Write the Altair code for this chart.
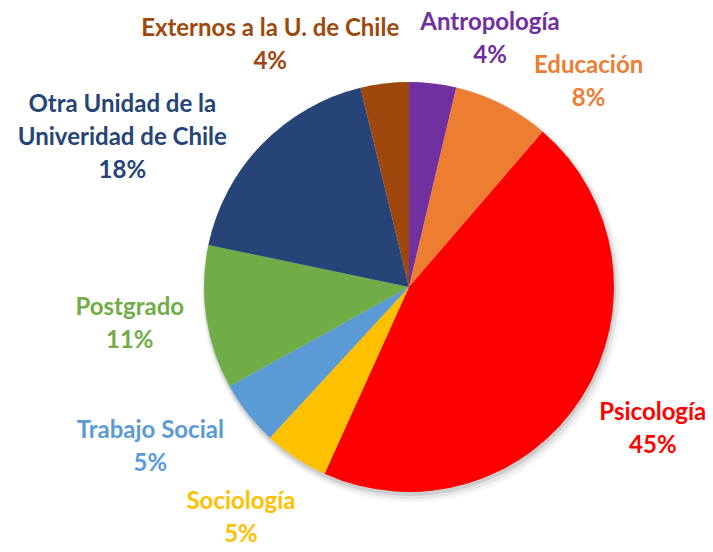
import altair as alt
import pandas as pd

# ---- data ----
categories = [
    "Antropología",
    "Educación",
    "Psicología",
    "Sociología",
    "Trabajo Social",
    "Postgrado",
    "Otra Unidad de la|Univeridad de Chile",
    "Externos a la U. de Chile",
]
values = [3.7, 7.6, 45.4, 5.1, 5.1, 11.3, 17.9, 3.8]
colors = ["#7030A0", "#ED7D31", "#FF0000", "#FFC000",
          "#5B9BD5", "#70AD47", "#264478", "#9E480E"]

df = pd.DataFrame({"categoria": categories, "valor": values,
                   "orden": list(range(len(categories)))})

# ---- layout ----
CX, CY, R = 401, 279, 205
LABEL_R = 250
LH = 33
FS = 24
# offsets of each label block centre from its mid-angle anchor
label_offsets = {
    "Antropología": (52, 1),
    "Educación": (66, 18),
    "Psicología": (33, 8),
    "Sociología": (-30, 23),
    "Trabajo Social": (-62, 6),
    "Postgrado": (-32, 0),
    "Otra Unidad de la|Univeridad de Chile": (-107, 25),
    "Externos a la U. de Chile": (-109, 7),
}

color_scale = alt.Scale(domain=categories, range=colors)
base = alt.Chart(df)

# soft shadow
shadows = []
for r, off, op in [(206, (1, 3), 0.10), (208, (2, 4), 0.06), (210, (3, 5), 0.04)]:
    shadows.append(
        base.mark_arc(radius=r, color="#000000", opacity=op).encode(
            theta=alt.Theta("valor:Q", stack=True),
            order=alt.Order("orden:Q"),
            x=alt.value(CX + off[0]),
            y=alt.value(CY + off[1]),
        )
    )

pie = base.mark_arc(radius=R).encode(
    theta=alt.Theta("valor:Q", stack=True),
    color=alt.Color("categoria:N", scale=color_scale, legend=None),
    order=alt.Order("orden:Q"),
    x=alt.value(CX),
    y=alt.value(CY),
)

lab_base = (
    base.transform_joinaggregate(total="sum(valor)")
    .transform_window(cum="sum(valor)", sort=[alt.SortField("orden")], frame=[None, 0])
    .transform_calculate(
        mid="(datum.cum - datum.valor/2) / datum.total * 2 * PI",
        lines="split(datum.categoria + '|' + format(datum.valor, '.0f') + '%', '|')",
    )
)

labels = []
for cat, col in zip(categories, colors):
    dx, dy = label_offsets[cat]
    n_lines = len(cat.split("|")) + 1
    dy_adj = dy - (n_lines - 1) * LH / 2
    labels.append(
        lab_base.transform_filter(alt.datum.categoria == cat)
        .mark_text(radius=LABEL_R, dx=dx, dy=dy_adj, font="Lato", fontWeight="bold",
                   fontSize=FS, lineHeight=LH, align="center", baseline="middle",
                   color=col)
        .encode(
            theta=alt.Theta("mid:Q", scale=None),
            text=alt.Text("lines:N"),
            x=alt.value(CX),
            y=alt.value(CY),
        )
    )

chart = alt.layer(*shadows, pie, *labels).properties(
    width=697, height=536, padding=0, autosize="none"
).configure_view(stroke=None)

chart.save("out.html", embed_options={"renderer": "svg", "actions": False})
